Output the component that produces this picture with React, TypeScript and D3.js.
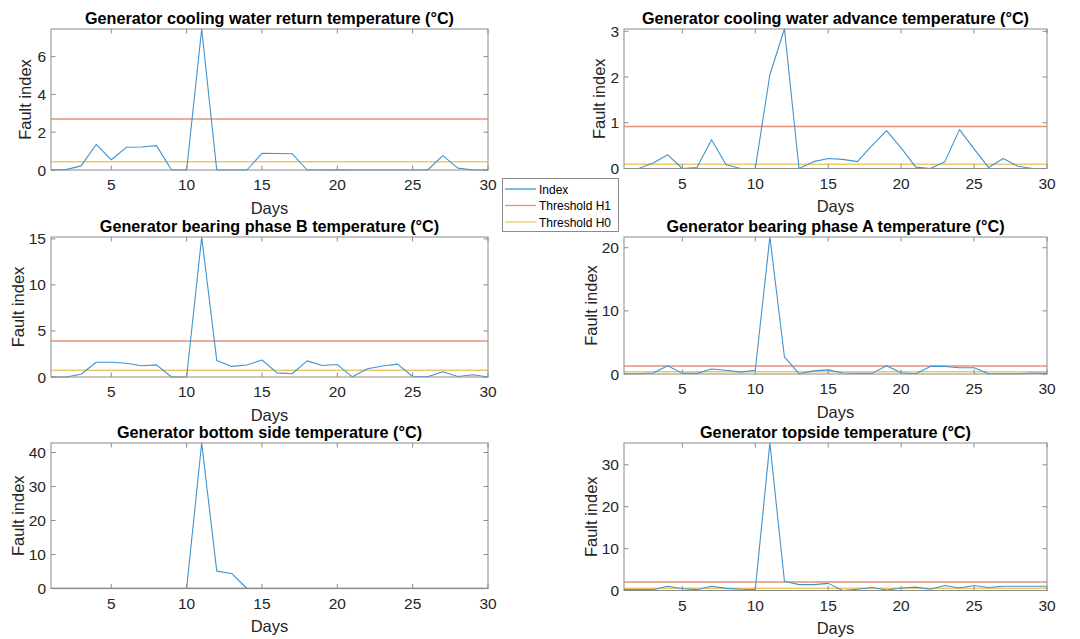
import { useEffect, useRef } from "react";
import * as d3 from "d3";

const W = 1080;
const H = 639;

const DAYS = [1, 2, 3, 4, 5, 6, 7, 8, 9, 10, 11, 12, 13, 14, 15, 16, 17, 18, 19, 20, 21, 22, 23, 24, 25, 26, 27, 28, 29, 30];
const X_TICKS = [5, 10, 15, 20, 25, 30];

const TITLES = [
  "Generator cooling water return temperature (°C)",
  "Generator cooling water advance temperature (°C)",
  "Generator bearing phase B temperature (°C)",
  "Generator bearing phase A temperature (°C)",
  "Generator bottom side temperature (°C)",
  "Generator topside temperature (°C)",
];

const RETURN_TEMP = [0, 0.02, 0.22, 1.35, 0.54, 1.2, 1.22, 1.29, 0, 0, 7.46, 0, 0, 0, 0.88, 0.87, 0.86, 0, 0, 0.01, 0, 0, 0, 0, 0, 0, 0.76, 0.1, 0, 0];
const ADVANCE_TEMP = [0, 0, 0.12, 0.3, 0, 0.02, 0.63, 0.08, 0, 0, 2.05, 3.05, 0, 0.15, 0.22, 0.2, 0.15, 0.5, 0.83, 0.45, 0.03, 0, 0.15, 0.85, 0.43, 0.02, 0.22, 0.05, 0, 0];
const BEARING_B = [0, 0, 0.3, 1.6, 1.6, 1.5, 1.22, 1.32, 0, 0, 15.2, 1.8, 1.15, 1.3, 1.85, 0.45, 0.35, 1.75, 1.25, 1.35, 0.02, 0.9, 1.2, 1.4, 0.05, 0.02, 0.56, 0.05, 0.25, 0];
const BEARING_A = [0.05, 0.05, 0.15, 1.3, 0.1, 0.1, 0.8, 0.6, 0.3, 0.6, 21.7, 2.7, 0.05, 0.5, 0.65, 0.15, 0.1, 0.1, 1.3, 0.2, 0.05, 1.2, 1.2, 1.0, 1.0, 0.05, 0.05, 0.05, 0.15, 0.1];
const BOTTOM_SIDE = [0, 0, 0, 0, 0, 0, 0, 0, 0, 0, 42.8, 5.1, 4.4, 0, 0, 0, 0, 0, 0, 0, 0, 0, 0, 0, 0, 0, 0, 0, 0, 0];
const TOPSIDE = [0.2, 0.2, 0.2, 1.0, 0.4, 0.2, 1.0, 0.5, 0.3, 0.2, 35.2, 2.2, 1.4, 1.4, 1.7, 0, 0.3, 0.7, 0.1, 0.6, 0.8, 0.3, 1.2, 0.6, 1.2, 0.7, 1.0, 1.0, 1.0, 1.0];

const SERIES = [RETURN_TEMP, ADVANCE_TEMP, BEARING_B, BEARING_A, BOTTOM_SIDE, TOPSIDE];
const THRESHOLD_H1 = [2.7, 0.92, 3.9, 1.28, 0.06, 2.0];
const THRESHOLD_H0 = [0.43, 0.095, 0.72, 0.35, 0.02, 0.55];
const Y_MAX = [7.46, 3.05, 15.2, 21.7, 42.8, 35.2];
const Y_TICKS = [
  [0, 2, 4, 6],
  [0, 1, 2, 3],
  [0, 5, 10, 15],
  [0, 10, 20],
  [0, 10, 20, 30, 40],
  [0, 10, 20, 30],
];

const LEGEND = ["Index", "Threshold H1", "Threshold H0"];
const COLORS = ["#3f94cf", "#e6927a", "#ecc96a"];

// plot boxes: left, right, top, bottom
const BOXES = [
  [51, 488, 29, 170],
  [624, 1047, 29, 168.5],
  [51, 488, 237, 377],
  [624, 1047, 237, 374],
  [51, 488, 443, 588.5],
  [624, 1047, 443, 590.5],
];
// x of the rotated "Fault index" baseline
const YLABEL_X = [31, 605, 23.5, 597, 23.5, 597];

const FONT = "Liberation Sans, Arial, Helvetica, sans-serif";
const AXIS = "#262626";
const BOX = "#8c8c8c";

export default function App() {
  const svgRef = useRef<SVGSVGElement>(null);

  useEffect(() => {
    const svg = d3.select(svgRef.current);
    svg.selectAll("*").remove();
    svg.append("rect").attr("width", W).attr("height", H).attr("fill", "#fff");

    SERIES.forEach((values, i) => {
      const [l, r, t, b] = BOXES[i];
      const x = d3.scaleLinear().domain([1, 30]).range([l, r]);
      const y = d3.scaleLinear().domain([0, Y_MAX[i]]).range([b, t]);
      const g = svg.append("g");
      const tickLen = 4.5;

      [THRESHOLD_H1[i], THRESHOLD_H0[i]].forEach((v, k) => {
        g.append("line")
          .attr("x1", l)
          .attr("x2", r)
          .attr("y1", y(v))
          .attr("y2", y(v))
          .attr("stroke", COLORS[k + 1])
          .attr("stroke-width", 1.5);
      });

      const line = d3
        .line<number>()
        .x((_, j) => x(DAYS[j]))
        .y((d) => y(d));

      g.append("path")
        .datum(values)
        .attr("fill", "none")
        .attr("stroke", COLORS[0])
        .attr("stroke-width", 1.1)
        .attr("stroke-linejoin", "round")
        .attr("d", line);

      g.append("rect")
        .attr("x", l)
        .attr("y", t)
        .attr("width", r - l)
        .attr("height", b - t)
        .attr("fill", "none")
        .attr("stroke", BOX)
        .attr("stroke-width", 1);

      X_TICKS.forEach((d) => {
        g.append("line")
          .attr("x1", x(d)).attr("x2", x(d))
          .attr("y1", b).attr("y2", b - tickLen)
          .attr("stroke", BOX);
        g.append("line")
          .attr("x1", x(d)).attr("x2", x(d))
          .attr("y1", t).attr("y2", t + tickLen)
          .attr("stroke", BOX);
        g.append("text")
          .attr("x", x(d))
          .attr("y", b + 20)
          .attr("text-anchor", "middle")
          .attr("font-family", FONT)
          .attr("font-size", 15.5)
          .attr("fill", AXIS)
          .text(d);
      });

      Y_TICKS[i].forEach((d) => {
        g.append("line")
          .attr("x1", l).attr("x2", l + tickLen)
          .attr("y1", y(d)).attr("y2", y(d))
          .attr("stroke", BOX);
        g.append("line")
          .attr("x1", r).attr("x2", r - tickLen)
          .attr("y1", y(d)).attr("y2", y(d))
          .attr("stroke", BOX);
        g.append("text")
          .attr("x", l - 5)
          .attr("y", y(d) + 5.5)
          .attr("text-anchor", "end")
          .attr("font-family", FONT)
          .attr("font-size", 15.5)
          .attr("fill", AXIS)
          .text(d);
      });

      g.append("text")
        .attr("x", (l + r) / 2)
        .attr("y", t - 5)
        .attr("text-anchor", "middle")
        .attr("font-family", FONT)
        .attr("font-size", 16.2)
        .attr("font-weight", 700)
        .attr("fill", "#000")
        .text(TITLES[i]);

      g.append("text")
        .attr("x", (l + r) / 2)
        .attr("y", b + 43.5)
        .attr("text-anchor", "middle")
        .attr("font-family", FONT)
        .attr("font-size", 16.5)
        .attr("fill", AXIS)
        .text("Days");

      g.append("text")
        .attr("transform", `translate(${YLABEL_X[i]}, ${(t + b) / 2}) rotate(-90)`)
        .attr("text-anchor", "middle")
        .attr("font-family", FONT)
        .attr("font-size", 16.5)
        .attr("fill", AXIS)
        .text("Fault index");
    });

    const lg = svg.append("g");
    lg.append("rect")
      .attr("x", 502.5)
      .attr("y", 178.5)
      .attr("width", 116)
      .attr("height", 53)
      .attr("fill", "#fff")
      .attr("stroke", BOX);
    LEGEND.forEach((name, k) => {
      const ly = 189 + k * 16.5;
      lg.append("line")
        .attr("x1", 505)
        .attr("x2", 536)
        .attr("y1", ly)
        .attr("y2", ly)
        .attr("stroke", COLORS[k])
        .attr("stroke-width", 1.3);
      lg.append("text")
        .attr("x", 539)
        .attr("y", ly + 4.5)
        .attr("font-family", FONT)
        .attr("font-size", 12)
        .attr("fill", "#000")
        .text(name);
    });
  }, []);

  return (
    <svg
      ref={svgRef}
      width={W}
      height={H}
      style={{ position: "fixed", left: 0, top: 0, display: "block" }}
    />
  );
}
